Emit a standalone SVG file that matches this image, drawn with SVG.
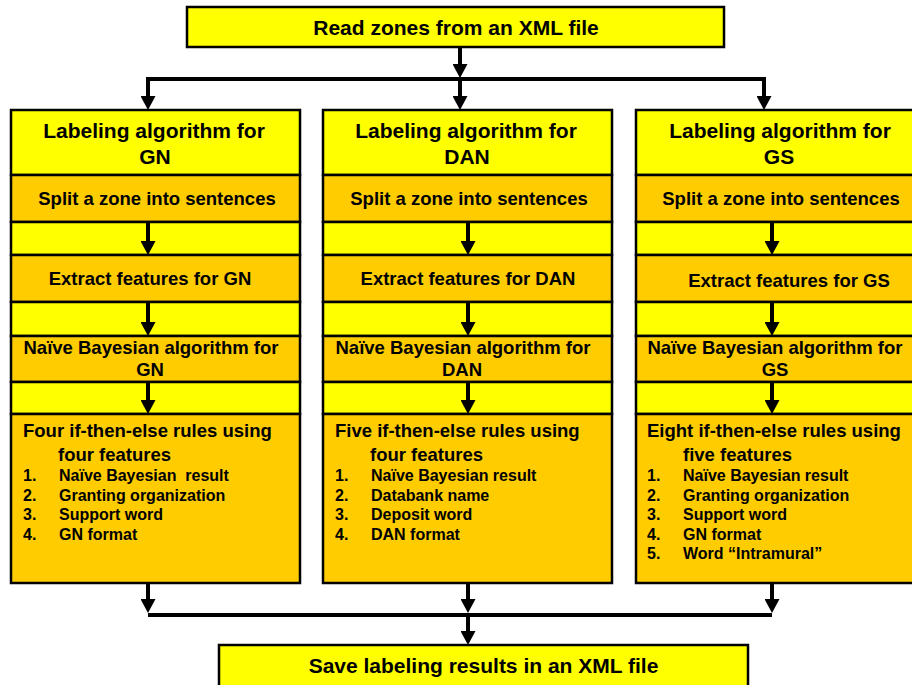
<svg xmlns="http://www.w3.org/2000/svg" width="912" height="685" viewBox="0 0 912 685">
<defs>
<marker id="ah" markerUnits="userSpaceOnUse" markerWidth="14" markerHeight="15" viewBox="0 0 14 15" refX="4" refY="7.5" orient="auto">
<path d="M0,0 L14,7.5 L0,15 z" fill="#000"/>
</marker>
<style>
.y{fill:#FFFF00;stroke:#000;stroke-width:2.5}
.o{fill:#FFCC00;stroke:#000;stroke-width:2.5}
text{font-family:"Liberation Sans",Arial,sans-serif;font-weight:bold;fill:#000}
.t21{font-size:21px;text-anchor:middle}
.t18{font-size:18.5px;text-anchor:middle}
.r18{font-size:18.5px}
.l16{font-size:16px;white-space:pre}
.c{fill:none;stroke:#000;stroke-width:4}
.ca{fill:none;stroke:#000;stroke-width:4;marker-end:url(#ah)}
</style>
</defs>
<rect width="912" height="685" fill="#fff"/>

<g id="read-zones">
<rect class="y" x="187" y="7" width="537" height="40"/>
<text class="t21" x="456" y="35">Read zones from an XML file</text>
</g>

<!-- GN column -->
<g id="gn-header"><rect class="y" x="11" y="110" width="289" height="65"/>
<text class="t21" x="154" y="138">Labeling algorithm for</text><text class="t21" x="155" y="164">GN</text></g>
<g id="gn-split"><rect class="o" x="11" y="175" width="289" height="47"/><text class="t18" x="157" y="205">Split a zone into sentences</text></g>
<rect class="y" x="11" y="222" width="289" height="33"/>
<g id="gn-extract"><rect class="o" x="11" y="255" width="289" height="47"/><text class="t18" x="150" y="285">Extract features for GN</text></g>
<rect class="y" x="11" y="302" width="289" height="34"/>
<g id="gn-naive"><rect class="o" x="11" y="336" width="289" height="46"/><text class="t18" x="151" y="354">Naïve Bayesian algorithm for</text><text class="t18" x="150" y="376">GN</text></g>
<rect class="y" x="11" y="382" width="289" height="32"/>
<g id="gn-rules"><rect class="o" x="11" y="414" width="289" height="169"/>
<text class="r18" x="23" y="437">Four if-then-else rules using</text>
<text class="r18" x="58" y="461">four features</text>
<text class="l16" x="23" y="481">1.</text><text class="l16" x="59" y="481">Naïve Bayesian  result</text>
<text class="l16" x="23" y="500.5">2.</text><text class="l16" x="59" y="500.5">Granting organization</text>
<text class="l16" x="23" y="520">3.</text><text class="l16" x="59" y="520">Support word</text>
<text class="l16" x="23" y="539.5">4.</text><text class="l16" x="59" y="539.5">GN format</text>
</g>

<!-- DAN column -->
<g id="dan-header"><rect class="y" x="323" y="110" width="289" height="65"/>
<text class="t21" x="466" y="138">Labeling algorithm for</text><text class="t21" x="467" y="164">DAN</text></g>
<g id="dan-split"><rect class="o" x="323" y="175" width="289" height="47"/><text class="t18" x="469" y="205">Split a zone into sentences</text></g>
<rect class="y" x="323" y="222" width="289" height="33"/>
<g id="dan-extract"><rect class="o" x="323" y="255" width="289" height="47"/><text class="t18" x="468" y="285">Extract features for DAN</text></g>
<rect class="y" x="323" y="302" width="289" height="34"/>
<g id="dan-naive"><rect class="o" x="323" y="336" width="289" height="46"/><text class="t18" x="463" y="354">Naïve Bayesian algorithm for</text><text class="t18" x="462" y="376">DAN</text></g>
<rect class="y" x="323" y="382" width="289" height="32"/>
<g id="dan-rules"><rect class="o" x="323" y="414" width="289" height="169"/>
<text class="r18" x="335" y="437">Five if-then-else rules using</text>
<text class="r18" x="370" y="461">four features</text>
<text class="l16" x="335" y="481">1.</text><text class="l16" x="371" y="481">Naïve Bayesian result</text>
<text class="l16" x="335" y="500.5">2.</text><text class="l16" x="371" y="500.5">Databank name</text>
<text class="l16" x="335" y="520">3.</text><text class="l16" x="371" y="520">Deposit word</text>
<text class="l16" x="335" y="539.5">4.</text><text class="l16" x="371" y="539.5">DAN format</text>
</g>

<!-- GS column -->
<g id="gs-header"><rect class="y" x="636" y="110" width="289" height="65"/>
<text class="t21" x="780" y="138">Labeling algorithm for</text><text class="t21" x="779" y="164">GS</text></g>
<g id="gs-split"><rect class="o" x="636" y="175" width="289" height="47"/><text class="t18" x="781" y="205">Split a zone into sentences</text></g>
<rect class="y" x="636" y="222" width="289" height="33"/>
<g id="gs-extract"><rect class="o" x="636" y="255" width="289" height="47"/><text class="t18" x="789" y="287">Extract features for GS</text></g>
<rect class="y" x="636" y="302" width="289" height="34"/>
<g id="gs-naive"><rect class="o" x="636" y="336" width="289" height="46"/><text class="t18" x="775" y="354">Naïve Bayesian algorithm for</text><text class="t18" x="775" y="376">GS</text></g>
<rect class="y" x="636" y="382" width="289" height="32"/>
<g id="gs-rules"><rect class="o" x="636" y="414" width="289" height="169"/>
<text class="r18" x="647" y="437">Eight if-then-else rules using</text>
<text class="r18" x="683" y="461">five features</text>
<text class="l16" x="647" y="481">1.</text><text class="l16" x="683" y="481">Naïve Bayesian result</text>
<text class="l16" x="647" y="500.5">2.</text><text class="l16" x="683" y="500.5">Granting organization</text>
<text class="l16" x="647" y="520">3.</text><text class="l16" x="683" y="520">Support word</text>
<text class="l16" x="647" y="539.5">4.</text><text class="l16" x="683" y="539.5">GN format</text>
<text class="l16" x="647" y="558.5">5.</text><text class="l16" x="683" y="558.5">Word “Intramural”</text>
</g>

<g id="save-results">
<rect class="y" x="219" y="645" width="529" height="60"/>
<text class="t21" x="483.5" y="673">Save labeling results in an XML file</text>
</g>

<g id="connectors">
<path class="ca" d="M460,47 V68"/>
<path class="c" d="M148,101 V79 H764 V101"/>
<path class="ca" d="M148,79 V100"/>
<path class="ca" d="M460,79 V100"/>
<path class="ca" d="M764,79 V100"/>
<path class="ca" d="M148,222 V245"/>
<path class="ca" d="M148,302 V326"/>
<path class="ca" d="M148,382 V404"/>
<path class="ca" d="M468,222 V245"/>
<path class="ca" d="M468,302 V326"/>
<path class="ca" d="M468,382 V404"/>
<path class="ca" d="M772,222 V245"/>
<path class="ca" d="M772,302 V326"/>
<path class="ca" d="M772,382 V404"/>
<path class="ca" d="M148,583 V603"/>
<path class="ca" d="M468,583 V603"/>
<path class="ca" d="M772,583 V603"/>
<path class="c" d="M148,615 H772"/>
<path class="ca" d="M468,615 V635"/>
</g>
</svg>
